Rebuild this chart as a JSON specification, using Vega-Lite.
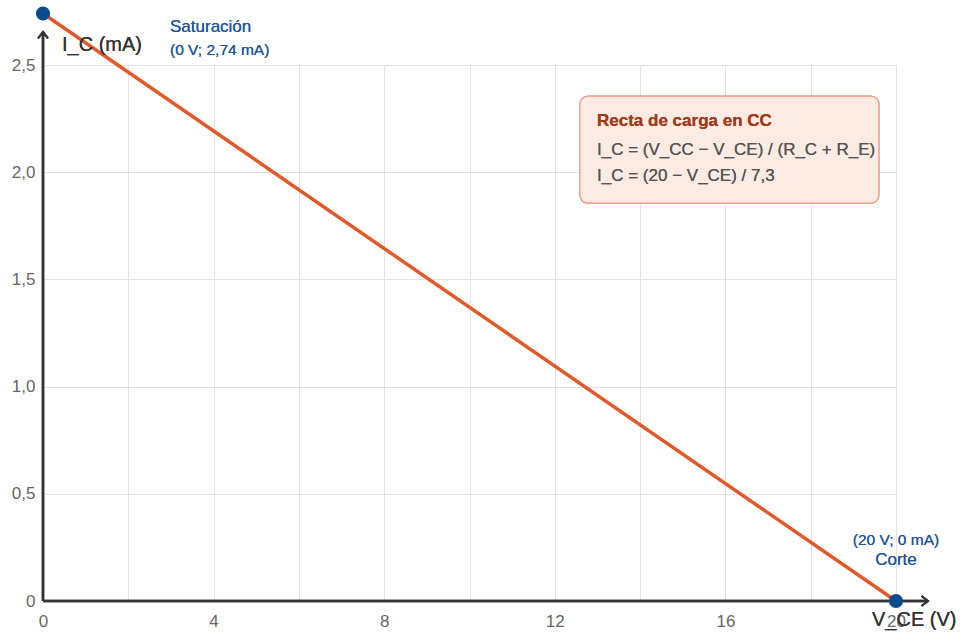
{
  "$schema": "https://vega.github.io/schema/vega-lite/v6.json",
  "width": 853,
  "height": 536,
  "autosize": {"type": "none"},
  "padding": {"left": 43, "top": 65, "right": 64, "bottom": 31},
  "background": "white",
  "config": {
    "view": {"stroke": null},
    "font": "Liberation Sans",
    "text": {"font": "Liberation Sans"},
    "axis": {"domain": false, "ticks": false, "grid": true, "gridColor": "#e2e2e2", "gridWidth": 1, "gridOpacity": 1, "labelColor": "#666666", "labelFontSize": 17, "labelFont": "Liberation Sans", "labelFlush": false, "title": null}
  },
  "data": {"values": [{"vce": 0, "ic": 2.74}, {"vce": 20, "ic": 0}]},
  "layer": [
    {
      "mark": {"type": "rect", "fill": "#fcebe3", "stroke": "#ec9a80", "strokeWidth": 1.2, "cornerRadius": 8},
      "encoding": {
        "x": {"datum": 12.59, "type": "quantitative", "scale": {"domain": [0, 20], "nice": false, "zero": false},
          "axis": {"grid": true, "values": [0, 2, 4, 6, 8, 10, 12, 14, 16, 18, 20], "labelExpr": "datum.value % 4 == 0 ? format(datum.value, 'd') : ''", "labelPadding": 12, "labelFlush": false}},
        "x2": {"datum": 19.6},
        "y": {"datum": 2.355, "type": "quantitative", "scale": {"domain": [0, 2.5], "nice": false},
          "axis": {"grid": true, "values": [0, 0.5, 1, 1.5, 2, 2.5], "labelExpr": "datum.value == 0 ? '0' : replace(format(datum.value, '.1f'), '.', ',')", "labelPadding": 8, "labelFlush": false}},
        "y2": {"datum": 1.856}
      }
    },
    {
      "mark": {"type": "rule", "color": "#333333", "strokeWidth": 2.5},
      "encoding": {"x": {"datum": 0}, "y": {"datum": 0}, "y2": {"datum": 2.655}}
    },
    {
      "mark": {"type": "rule", "color": "#333333", "strokeWidth": 2.5},
      "encoding": {"y": {"datum": 0}, "x": {"datum": 0}, "x2": {"datum": 20.75}}
    },
    {
      "mark": {"type": "point", "shape": "M-1,1.3L0,0L1,1.3", "filled": false, "stroke": "#333333", "strokeWidth": 2, "size": 100, "opacity": 1},
      "encoding": {"x": {"datum": 0}, "y": {"datum": 2.655}}
    },
    {
      "mark": {"type": "point", "shape": "M-1.3,-1L0,0L-1.3,1", "filled": false, "stroke": "#333333", "strokeWidth": 2, "size": 100, "opacity": 1},
      "encoding": {"x": {"datum": 20.75}, "y": {"datum": 0}}
    },
    {
      "mark": {"type": "line", "color": "#e0592a", "strokeWidth": 3.5},
      "encoding": {"x": {"field": "vce", "type": "quantitative"}, "y": {"field": "ic", "type": "quantitative"}}
    },
    {
      "mark": {"type": "circle", "color": "#0b4a8c", "size": 200, "opacity": 1},
      "encoding": {"x": {"field": "vce", "type": "quantitative"}, "y": {"field": "ic", "type": "quantitative"}}
    },
    {
      "mark": {"type": "text", "text": "I_C (mA)", "align": "left", "baseline": "middle", "fontSize": 20, "color": "#333333", "dx": 19, "dy": -20},
      "encoding": {"x": {"datum": 0}, "y": {"datum": 2.5}}
    },
    {
      "mark": {"type": "text", "text": "V_CE (V)", "align": "left", "baseline": "middle", "fontSize": 20, "color": "#333333", "dx": -24, "dy": 19},
      "encoding": {"x": {"datum": 20}, "y": {"datum": 0}}
    },
    {
      "mark": {"type": "text", "text": "Saturación", "align": "left", "baseline": "middle", "fontSize": 17, "color": "#1f5796", "dx": 127, "dy": 13.5},
      "encoding": {"x": {"datum": 0}, "y": {"datum": 2.74}}
    },
    {
      "mark": {"type": "text", "text": "(0 V; 2,74 mA)", "align": "left", "baseline": "middle", "fontSize": 15.5, "color": "#1f5796", "dx": 127, "dy": 36},
      "encoding": {"x": {"datum": 0}, "y": {"datum": 2.74}}
    },
    {
      "mark": {"type": "text", "text": "(20 V; 0 mA)", "align": "center", "baseline": "middle", "fontSize": 15.5, "color": "#1f5796", "dy": -61},
      "encoding": {"x": {"datum": 20}, "y": {"datum": 0}}
    },
    {
      "mark": {"type": "text", "text": "Corte", "align": "center", "baseline": "middle", "fontSize": 17, "color": "#1f5796", "dy": -41},
      "encoding": {"x": {"datum": 20}, "y": {"datum": 0}}
    },
    {
      "mark": {"type": "text", "text": "Recta de carga en CC", "align": "left", "baseline": "middle", "fontSize": 17, "fontWeight": "bold", "color": "#a33a18"},
      "encoding": {"x": {"datum": 12.99}, "y": {"datum": 2.239}}
    },
    {
      "mark": {"type": "text", "text": "I_C = (V_CC − V_CE) / (R_C + R_E)", "align": "left", "baseline": "middle", "fontSize": 17, "color": "#555555"},
      "encoding": {"x": {"datum": 12.99}, "y": {"datum": 2.104}}
    },
    {
      "mark": {"type": "text", "text": "I_C = (20 − V_CE) / 7,3", "align": "left", "baseline": "middle", "fontSize": 17, "color": "#555555"},
      "encoding": {"x": {"datum": 12.99}, "y": {"datum": 1.982}}
    }
  ]
}
